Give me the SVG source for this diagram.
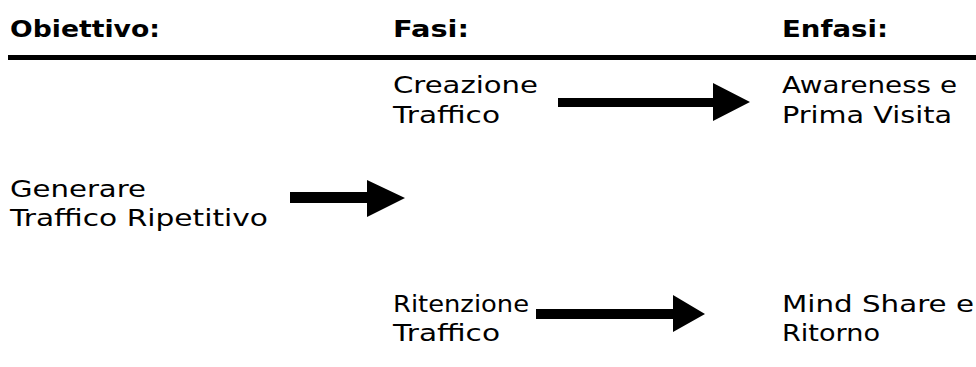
<svg xmlns="http://www.w3.org/2000/svg" width="976" height="367" viewBox="0 0 976 367">
<style>
  text { font-family: "DejaVu Sans", Verdana, sans-serif; font-size: 23px; fill: #000; }
  .h { font-weight: bold; }
  .arrow { fill: #000; stroke: none; }
</style>
<rect x="0" y="0" width="976" height="367" fill="#fff"/>
<g id="header">
  <text class="h" x="10" y="37" textLength="150" lengthAdjust="spacingAndGlyphs">Obiettivo:</text>
  <text class="h" x="393" y="37" textLength="76" lengthAdjust="spacingAndGlyphs">Fasi:</text>
  <text class="h" x="782" y="37" textLength="106" lengthAdjust="spacingAndGlyphs">Enfasi:</text>
  <rect x="8" y="55" width="968" height="5" fill="#000"/>
</g>
<g id="obiettivo">
  <text x="10" y="197" textLength="136" lengthAdjust="spacingAndGlyphs">Generare</text>
  <text x="10" y="226" textLength="258" lengthAdjust="spacingAndGlyphs">Traffico Ripetitivo</text>
</g>
<g id="creazione">
  <text x="393" y="93" textLength="145" lengthAdjust="spacingAndGlyphs">Creazione</text>
  <text x="393" y="123" textLength="107" lengthAdjust="spacingAndGlyphs">Traffico</text>
</g>
<g id="awareness">
  <text x="782" y="93" textLength="175" lengthAdjust="spacingAndGlyphs">Awareness e</text>
  <text x="782" y="123" textLength="170" lengthAdjust="spacingAndGlyphs">Prima Visita</text>
</g>
<g id="ritenzione">
  <text x="393" y="312" textLength="136" lengthAdjust="spacingAndGlyphs">Ritenzione</text>
  <text x="393" y="341" textLength="107" lengthAdjust="spacingAndGlyphs">Traffico</text>
</g>
<g id="mindshare">
  <text x="782" y="312" textLength="192" lengthAdjust="spacingAndGlyphs">Mind Share e</text>
  <text x="782" y="341" textLength="98" lengthAdjust="spacingAndGlyphs">Ritorno</text>
</g>
<g id="connectors">
  <polygon class="arrow" points="558,98 713,98 713,83 750,102 713,121 713,107 558,107"/>
  <polygon class="arrow" points="290,192 367,192 367,180 405,198 367,217 367,203 290,203"/>
  <polygon class="arrow" points="536,309 673,309 673,295 705,314 673,332 673,319 536,319"/>
</g>
</svg>
